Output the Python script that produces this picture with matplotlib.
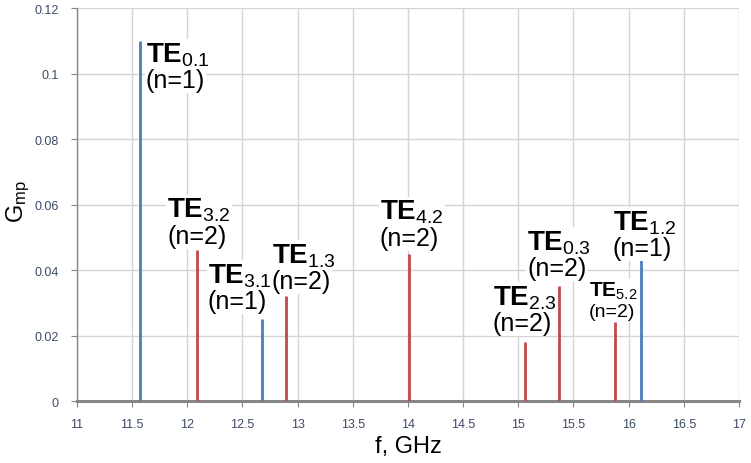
import matplotlib
matplotlib.use("Agg")
import matplotlib.pyplot as plt

plt.rcParams['font.family'] = ['Liberation Sans', 'DejaVu Sans']
plt.rcParams['mathtext.fontset'] = 'custom'
plt.rcParams['mathtext.rm'] = 'Liberation Sans'
plt.rcParams['mathtext.bf'] = 'Liberation Sans:bold'
plt.rcParams['mathtext.it'] = 'Liberation Sans:italic'

# resonance lines: frequency (GHz), coupling G_mp, mode index, harmonic number
freqs = [11.57, 12.09, 12.68, 12.89, 14.01, 15.06, 15.37, 15.88, 16.11]
gmp = [0.110, 0.046, 0.025, 0.032, 0.045, 0.018, 0.035, 0.024, 0.043]
modes = ['0.1', '3.2', '3.1', '1.3', '4.2', '2.3', '0.3', '5.2', '1.2']
harmonics = [1, 2, 1, 2, 2, 2, 2, 2, 1]

xticks = [11 + 0.5 * i for i in range(13)]
yticks = [0, 0.02, 0.04, 0.06, 0.08, 0.1, 0.12]

# label anchors (left edge, baseline of the TE line) and font sizes
label_x = [11.625, 11.816, 12.187, 12.767, 13.746, 14.770, 15.079, 15.641, 15.858]
label_y = [0.1038, 0.0562, 0.0363, 0.0424, 0.0556, 0.0296, 0.0464, 0.0321, 0.0525]
label_big = [True, True, True, True, True, True, True, False, True]

colors = {1: '#4a7ebb', 2: '#be4b48'}

fig = plt.figure(figsize=(7.51, 4.64), dpi=100)
ax = fig.add_axes([0.1025, 0.1336, 0.8815, 0.847])

ax.vlines(freqs, 0, gmp, colors=[colors[n] for n in harmonics], linewidth=2.0, zorder=3)

for x, y, m, n, big in zip(label_x, label_y, modes, harmonics, label_big):
    fs_te, fs_n, gap = (20, 18, 0.0079) if big else (15, 14, 0.006)
    box = dict(facecolor='white', edgecolor='none', pad=0.5)
    ax.text(x, y, r'$\mathbf{TE}_{%s}$' % m, fontsize=fs_te, ha='left',
            va='baseline', bbox=box, zorder=4)
    ax.text(x, y - gap, '(n=%d)' % n, fontsize=fs_n, ha='left',
            va='baseline', bbox=box, zorder=5)

ax.set_xlim(11, 17)
ax.set_ylim(0, 0.12)
ax.set_xticks(xticks)
ax.set_xticklabels(['%g' % t for t in xticks])
ax.set_yticks(yticks)
ax.set_yticklabels(['%g' % t for t in yticks])
ax.grid(True, color='#d4d4d4', linewidth=1.0, zorder=0)
ax.set_axisbelow(True)

for s in ['top', 'right']:
    ax.spines[s].set_visible(False)
ax.spines['bottom'].set_color('#868686')
ax.spines['bottom'].set_linewidth(2.2)
ax.spines['left'].set_color('#868686')
ax.spines['left'].set_linewidth(1.0)

ax.tick_params(axis='both', direction='out', length=4, color='#868686',
               labelsize=9, labelcolor='#3c4a66')
ax.tick_params(axis='x', pad=8)
ax.tick_params(axis='y', pad=9)

ax.set_xlabel('f, GHz', fontsize=17, labelpad=4)
ax.set_ylabel(r'G$_{\mathrm{mp}}$', fontsize=17)
ax.yaxis.set_label_coords(-0.068, 0.51)

fig.savefig('out.png', dpi=100)
